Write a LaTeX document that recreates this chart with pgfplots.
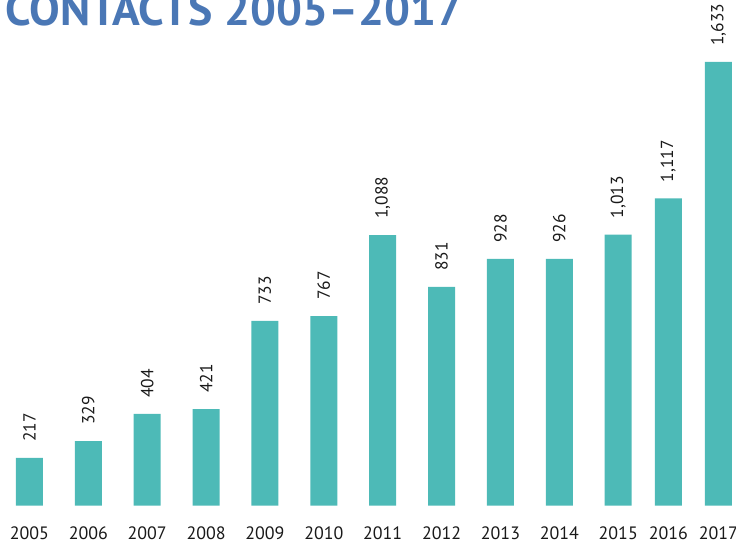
\documentclass[border=0pt]{standalone}
\usepackage{pgfplots}
\pgfplotsset{compat=1.18}
\usepackage{pgfplotstable}
\usepackage{fontspec}
\setmainfont{PT Sans}
\definecolor{barc}{HTML}{4DBAB7}
\definecolor{titlec}{HTML}{4A77B5}
\pgfplotstableread{
x y label
0 175 217
1 237 329
2 337 404
3 355 421
4 679 733
5 697 767
6 995 1,088
7 804 831
8 907 928
9 907 926
10 997 1,013
10.85 1130 1,117
11.7 1632 1,633
}\datatab
\begin{document}
\begin{tikzpicture}
\begin{axis}[
  at={(0bp,37.5bp)}, anchor=south west,
  scale only axis, width=736bp, height=505.5bp,
  xmin=-0.5, xmax=12, ymin=0, ymax=1860,
  axis line style={draw=none},
  ytick=\empty, major tick length=0pt,
  xtick=data,
  xticklabels={2005,2006,2007,2008,2009,2010,2011,2012,2013,2014,2015,2016,2017},
  xticklabel style={anchor=base, yshift=-33.5bp, font=\fontsize{18}{18}\selectfont, text=black!90},
  clip=false,
  ybar, bar width=27bp,
  point meta=explicit symbolic,
  nodes near coords,
  every node near coord/.append style={rotate=90, anchor=west, inner xsep=16bp, inner ysep=0pt, font=\fontsize{17.5}{17.5}\selectfont, text=black!90},
]
\addplot[fill=barc, draw=none] table[x=x, y=y, meta=label] {\datatab};
\end{axis}
\node[anchor=base west, inner sep=0pt, font=\bfseries\fontsize{46}{46}\selectfont, text=titlec] at (5bp,517bp) {CONTACTS 2005–2017};
\pgfresetboundingbox
\useasboundingbox (0,0) rectangle (736bp,543bp);
\end{tikzpicture}
\end{document}
